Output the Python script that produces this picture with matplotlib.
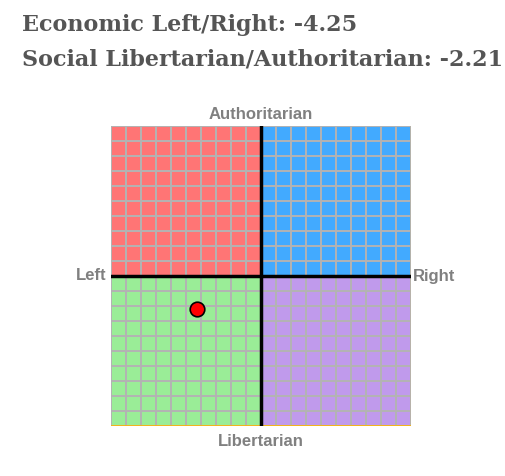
import matplotlib.pyplot as plt
from matplotlib.patches import Rectangle

# scores
economic = -4.25
social = -2.21

quadrants = ['auth_left', 'auth_right', 'lib_left', 'lib_right']
quad_colors = ['#ff7575', '#42aaff', '#9aed97', '#c09aec']
quad_origin = [(-10, 0), (0, 0), (-10, -10), (0, -10)]

axis_labels = ['Authoritarian', 'Libertarian', 'Left', 'Right']

fig = plt.figure(figsize=(5.06, 4.76), dpi=100)
ax = fig.add_axes([111 / 506, 50 / 476, 300 / 506, 300 / 476])

for (x0, y0), c in zip(quad_origin, quad_colors):
    ax.add_patch(Rectangle((x0, y0), 10, 10, facecolor=c, edgecolor='none', zorder=0))

# grid lines
for v in range(-10, 11):
    ax.axvline(v, color='#b3b3b3', lw=1.4, zorder=1)
    ax.axhline(v, color='#b3b3b3', lw=1.4, zorder=1)
ax.axhline(-10, color='#ffb400', lw=1.2, zorder=2)
ax.axvline(10, color='#ffb400', lw=0.8, zorder=2)

ax.axvline(0, color='black', lw=2.5, zorder=3)
ax.axhline(0, color='black', lw=2.5, zorder=3)

ax.plot(economic, social, 'o', color='red', markeredgecolor='black',
        markeredgewidth=1.2, markersize=10.5, zorder=5)

ax.set_xlim(-10, 10)
ax.set_ylim(-10, 10)
ax.axis('off')

lab = dict(color='#808080', fontsize=12, fontweight='bold', family='Liberation Sans')
ax.text(0, 10.25, axis_labels[0], ha='center', va='bottom', **lab)
ax.text(0, -10.5, axis_labels[1], ha='center', va='top', **lab)
ax.text(-10.3, 0, axis_labels[2], ha='right', va='center', **lab)
ax.text(10.15, 0, axis_labels[3], ha='left', va='center', **lab)

title = dict(color='#555555', fontsize=16, fontweight='bold', family='DejaVu Serif')
fig.text(22 / 506, 1 - 31 / 476, f'Economic Left/Right: {economic}', ha='left', va='baseline', **title)
fig.text(22 / 506, 1 - 66 / 476, f'Social Libertarian/Authoritarian: {social}', ha='left', va='baseline', **title)

fig.savefig('out.png', dpi=100)
